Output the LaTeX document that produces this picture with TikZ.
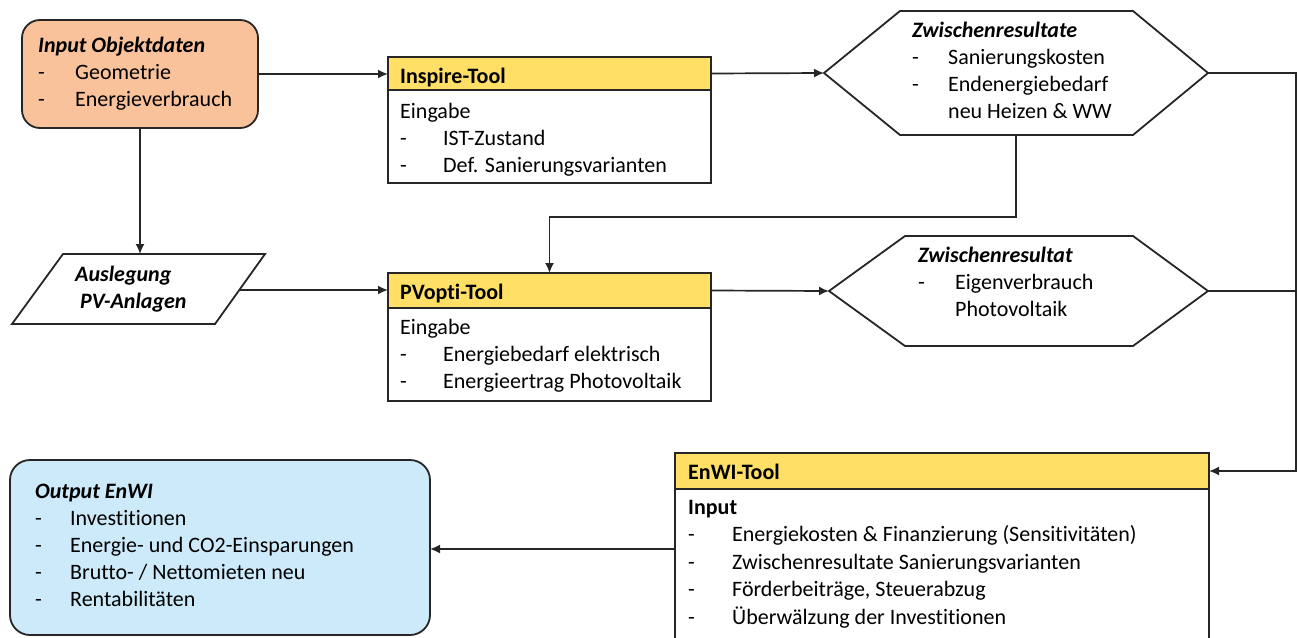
\documentclass[tikz,border=0pt]{standalone}
\usepackage{fontspec}
\setmainfont{Carlito}[Ligatures={NoCommon}]
\usetikzlibrary{arrows.meta}
\definecolor{edge}{HTML}{262626}
\definecolor{inputfill}{HTML}{F9C29B}
\definecolor{toolhead}{HTML}{FFDF66}
\definecolor{outputfill}{HTML}{CDEAFA}
% list item: dash, then the text at a fixed tab
\newcommand\itm[2]{\makebox[#1][l]{-}#2}
\newcommand\bi[1]{\textbf{\textit{#1}}}

\begin{document}
\begin{tikzpicture}[x=1pt,y=-1pt,
  frame/.style={draw=edge, line width=1.8pt},
  block/.style={frame, anchor=north west, inner sep=0pt, outer sep=0pt},
  lines/.style={anchor=north west, inner sep=0pt, align=left,
                font=\fontsize{22}{27}\selectfont},
  heading/.style={lines, font=\fontsize{22}{27}\selectfont\bfseries},
  link/.style={draw=edge, line width=1.7pt, -{Latex[length=10pt,width=9pt]}},
  wire/.style={draw=edge, line width=1.7pt},
]
\useasboundingbox (0,0) rectangle (1298,637);
\clip (0,0) rectangle (1298,637);

% helper levels for routed connectors
\coordinate (rail) at (1296,0);
\coordinate (bend) at (0,217);
\coordinate (outlevel) at (0,549);

% ---- Input Objektdaten
\node[block, rounded corners=18pt, fill=inputfill,
      minimum width=236pt, minimum height=108pt] (input) at (22,20) {};
\node[lines] (inputtxt) at (38,33) {\bi{Input Objektdaten}\strut\\
  \itm{37pt}{Geometrie}\strut\\ \itm{37pt}{Energieverbrauch}\strut};

% ---- Inspire-Tool
\node[block, fill=white, minimum width=323pt, minimum height=126pt] (inspire) at (388,57) {};
\node[block, fill=toolhead, minimum width=323pt, minimum height=33pt] (inspirehead) at (388,57) {};
\node[heading] (inspiretitle) at (400,64) {Inspire-Tool\strut};
\node[lines] (inspiretxt) at (400,99) {Eingabe\strut\\
  \itm{43pt}{IST-Zustand}\strut\\ \itm{43pt}{Def. Sanierungsvarianten}\strut};

% ---- Zwischenresultate (hexagon)
\coordinate (res1w) at (824,73);
\coordinate (res1e) at (1208,73);
\coordinate (res1s) at (1016,135);
\draw[frame, line join=miter] (res1w) -- (900,11) -- (1133,11) -- (res1e)
  -- (1133,135) -- (900,135) -- cycle;
\node[lines] (res1txt) at (912,18) {\bi{Zwischenresultate}\strut\\
  \itm{36pt}{Sanierungskosten}\strut\\ \itm{36pt}{Endenergiebedarf}\strut\\
  \hspace*{36pt}neu Heizen \& WW\strut};

% ---- Auslegung PV-Anlagen (parallelogram)
\coordinate (pvtop) at (140,254);
\coordinate (pvright) at (240,290);
\draw[frame] (63,254) -- (265,254) -- (215,324) -- (12,324) -- cycle;
\node[lines, font=\fontsize{22}{27}\selectfont\bfseries\itshape] (pvtxt) at (75,262)
  {Auslegung\strut\\ \hspace*{5pt}PV-Anlagen\strut};

% ---- PVopti-Tool
\node[block, fill=white, minimum width=323pt, minimum height=128pt] (pvopti) at (388,273) {};
\node[block, fill=toolhead, minimum width=323pt, minimum height=35pt] (pvhead) at (388,273) {};
\node[heading] (pvtitle) at (400,280) {PVopti-Tool\strut};
\node[lines] (pvbody) at (400,315) {Eingabe\strut\\
  \itm{43pt}{Energiebedarf elektrisch}\strut\\ \itm{43pt}{Energieertrag Photovoltaik}\strut};

% ---- Zwischenresultat (hexagon)
\coordinate (res2w) at (829,291);
\coordinate (res2e) at (1208,291);
\draw[frame, line join=miter] (res2w) -- (905,236) -- (1133,236) -- (res2e)
  -- (1133,346) -- (905,346) -- cycle;
\node[lines] (res2txt) at (918,243) {\bi{Zwischenresultat}\strut\\
  \itm{37pt}{Eigenverbrauch}\strut\\ \hspace*{37pt}Photovoltaik\strut};

% ---- EnWI-Tool
\node[block, fill=white, minimum width=534pt, minimum height=220pt] (enwi) at (675,453) {};
\node[block, fill=toolhead, minimum width=534pt, minimum height=36pt] (enwihead) at (675,453) {};
\node[heading] (enwititle) at (688,460) {EnWI-Tool\strut};
\node[lines, font=\fontsize{22}{27.5}\selectfont] (enwitxt) at (688,495) {\textbf{Input}\strut\\
  \itm{44pt}{Energiekosten \& Finanzierung (Sensitivitäten)}\strut\\
  \itm{44pt}{Zwischenresultate Sanierungsvarianten}\strut\\
  \itm{44pt}{Förderbeiträge, Steuerabzug}\strut\\
  \itm{44pt}{Überwälzung der Investitionen}\strut};

% ---- Output EnWI
\node[block, rounded corners=20pt, fill=outputfill,
      minimum width=420pt, minimum height=175pt] (output) at (10,460) {};
\node[lines] (outtxt) at (35,479) {\bi{Output EnWI}\strut\\
  \itm{35pt}{Investitionen}\strut\\ \itm{35pt}{Energie- und CO2-Einsparungen}\strut\\
  \itm{35pt}{Brutto- / Nettomieten neu}\strut\\ \itm{35pt}{Rentabilitäten}\strut};

% ---- connectors
\draw[link] (input.east) -- (input.east -| inspirehead.west);
\draw[link] (inspirehead.east) -- (res1w);
\draw[link] (input.south -| pvtop) -- (pvtop);
\draw[link] (pvright) -- (pvright -| pvhead.west);
\draw[link] (pvhead.east) -- (res2w);
\draw[link] (res1s) -- (res1s |- bend) -| (pvhead.north);
\draw[link] (res1e) -- (res1e -| rail) |- (enwihead.east);
\draw[wire] (res2e) -- (res2e -| rail);
\draw[link] (enwi.west |- outlevel) -- (output.east |- outlevel);
\end{tikzpicture}
\end{document}
